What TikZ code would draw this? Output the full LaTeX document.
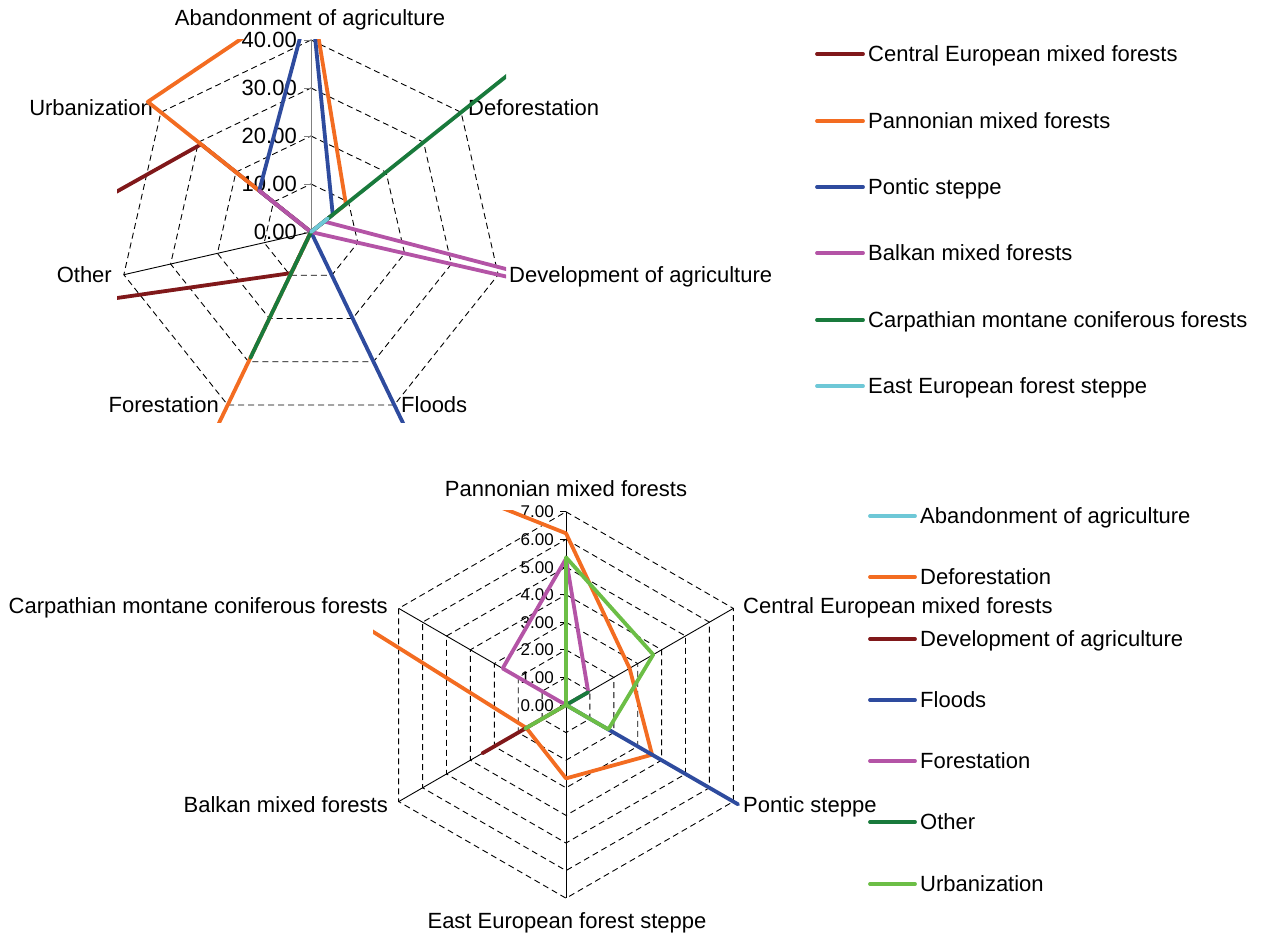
\documentclass[tikz,border=0pt]{standalone}
\usepackage{fontspec}
\setmainfont{Liberation Sans}
\definecolor{cemred}{RGB}{128,24,26}
\definecolor{pannorange}{RGB}{243,108,33}
\definecolor{ponticblue}{RGB}{46,75,158}
\definecolor{balkanpink}{RGB}{180,84,166}
\definecolor{carpgreen}{RGB}{25,122,60}
\definecolor{eastcyan}{RGB}{110,200,215}
\definecolor{urbangreen}{RGB}{108,190,70}
\tikzset{
  ring/.style={line width=0.9pt,dash pattern=on 6pt off 4pt},
  spoke/.style={line width=0.9pt},
  series/.style={line width=3.8pt,line join=round},
  swatch/.style={line width=3.8pt,line cap=round},
  lbl/.style={inner sep=0pt,font=\fontsize{22}{26}\selectfont,text height=15.8pt,text depth=0pt},
  smalllbl/.style={inner sep=0pt,font=\fontsize{17}{20}\selectfont,text height=12.2pt,text depth=0pt}
}

\begin{document}
\begin{tikzpicture}[x=1pt,y=1pt]
\useasboundingbox (0,0) rectangle (1265,936);

% threats by ecoregion (heptagon, 0 to 40)
\begin{scope}[shift={(311,704)}]
  \foreach \r in {1,...,4}
    \draw[ring] (90:{48*\r}) \foreach \i in {1,...,6}{ -- ({90-360/7*\i}:{48*\r}) } -- cycle;
  \foreach \i in {1,...,6}
    \draw[spoke] (0,0) -- ({90-360/7*\i}:192);
  \draw[spoke,gray] (0,0) -- (0,192);
  \foreach \k/\t in {0/0.00,1/10.00,2/20.00,3/30.00,4/40.00}{
    \draw[spoke,gray] (-7,{48*\k}) -- (0,{48*\k});
    \node[lbl,anchor=east] (ttick\k) at (-14,{48*\k}) {\t};
  }
  \node[lbl] (abandon) at (-1,214) {Abandonment of agriculture};
  \node[lbl,anchor=west] (defor) at (157,124) {Deforestation};
  \node[lbl,anchor=west] (develop) at (198,-43) {Development of agriculture};
  \node[lbl,anchor=west] (floods) at (90,-173) {Floods};
  \node[lbl,anchor=east] (forest) at (-92,-173) {Forestation};
  \node[lbl,anchor=east] (other) at (-199,-43) {Other};
  \node[lbl,anchor=east] (urban) at (-158,124) {Urbanization};
  \begin{scope}
    \clip (-194,-191) rectangle (195,192);
    \foreach \col/\vals in {cemred/{0,0,0,0,9.5,96,29.3},
        pannorange/{50,9.3,0,0,60,0,43.5},
        ponticblue/{49,5.8,0,70,0,0,13.8},
        balkanpink/{0,3.5,90,0,0,0,13.8},
        carpgreen/{0,70,0,0,29.1,0,0},
        eastcyan/{0,4.5,0,0,0,0,0}}{
      \foreach \v [count=\i from 0] in \vals
        \coordinate (t\i) at ({90-360/7*\i}:{4.8*\v});
      \draw[series,\col] (t0) -- (t1) -- (t2) -- (t3) -- (t4) -- (t5) -- (t6) -- cycle;
    }
  \end{scope}
\end{scope}

% ecoregions by threat (hexagon, 0 to 7)
\begin{scope}[shift={(566,231)}]
  \foreach \r in {1,...,7}
    \draw[ring] (90:{27.6*\r}) \foreach \i in {1,...,5}{ -- ({90-60*\i}:{27.6*\r}) } -- cycle;
  \foreach \i in {0,...,5}
    \draw[spoke] (0,0) -- ({90-60*\i}:193);
  \foreach \k in {0,...,7}{
    \draw[spoke] (-6,{27.6*\k}) -- (0,{27.6*\k});
    \node[smalllbl,anchor=east] (btick\k) at (-12,{27.6*\k}) {\k.00};
  }
  \node[lbl] (pannon) at (0,216) {Pannonian mixed forests};
  \node[lbl,anchor=west] (centeu) at (177,99) {Central European mixed forests};
  \node[lbl,anchor=west] (pontic) at (177,-99.5) {Pontic steppe};
  \node[lbl] (easteu) at (1,-215.5) {East European forest steppe};
  \node[lbl,anchor=east] (balkan) at (-178,-99.5) {Balkan mixed forests};
  \node[lbl,anchor=east] (carpath) at (-178,99.5) {Carpathian montane coniferous forests};
  \begin{scope}
    \clip (-193,-194) rectangle (193,194);
    \foreach \col/\vals in {eastcyan/{0,0,0,0,0,0},
        pannorange/{6.22,2.66,3.6,2.66,1.66,40},
        cemred/{0,0,0,0,3.5,0},
        ponticblue/{0,0,7.2,0,0,0},
        balkanpink/{5.3,0.93,0,0,0,2.65},
        carpgreen/{0,0.93,0,0,0,0},
        urbangreen/{5.35,3.65,1.77,0,1.71,0}}{
      \foreach \v [count=\i from 0] in \vals
        \coordinate (b\i) at ({90-60*\i}:{27.6*\v});
      \draw[series,\col] (b0) -- (b1) -- (b2) -- (b3) -- (b4) -- (b5) -- cycle;
    }
  \end{scope}
\end{scope}

% legends
\foreach \y/\col/\name [count=\n] in {54/cemred/Central European mixed forests,
    121/pannorange/Pannonian mixed forests,
    187/ponticblue/Pontic steppe,
    253/balkanpink/Balkan mixed forests,
    320/carpgreen/Carpathian montane coniferous forests,
    386/eastcyan/East European forest steppe}{
  \draw[swatch,\col] (817,{936-\y}) -- (863,{936-\y});
  \node[lbl,anchor=west] (tleg\n) at (868,{936-\y}) {\name};
}
\foreach \y/\col/\name [count=\n] in {516/eastcyan/Abandonment of agriculture,
    577/pannorange/Deforestation,
    639/cemred/Development of agriculture,
    700/ponticblue/Floods,
    761/balkanpink/Forestation,
    822/carpgreen/Other,
    884/urbangreen/Urbanization}{
  \draw[swatch,\col] (870,{936-\y}) -- (915,{936-\y});
  \node[lbl,anchor=west] (bleg\n) at (920,{936-\y}) {\name};
}
\end{tikzpicture}
\end{document}
